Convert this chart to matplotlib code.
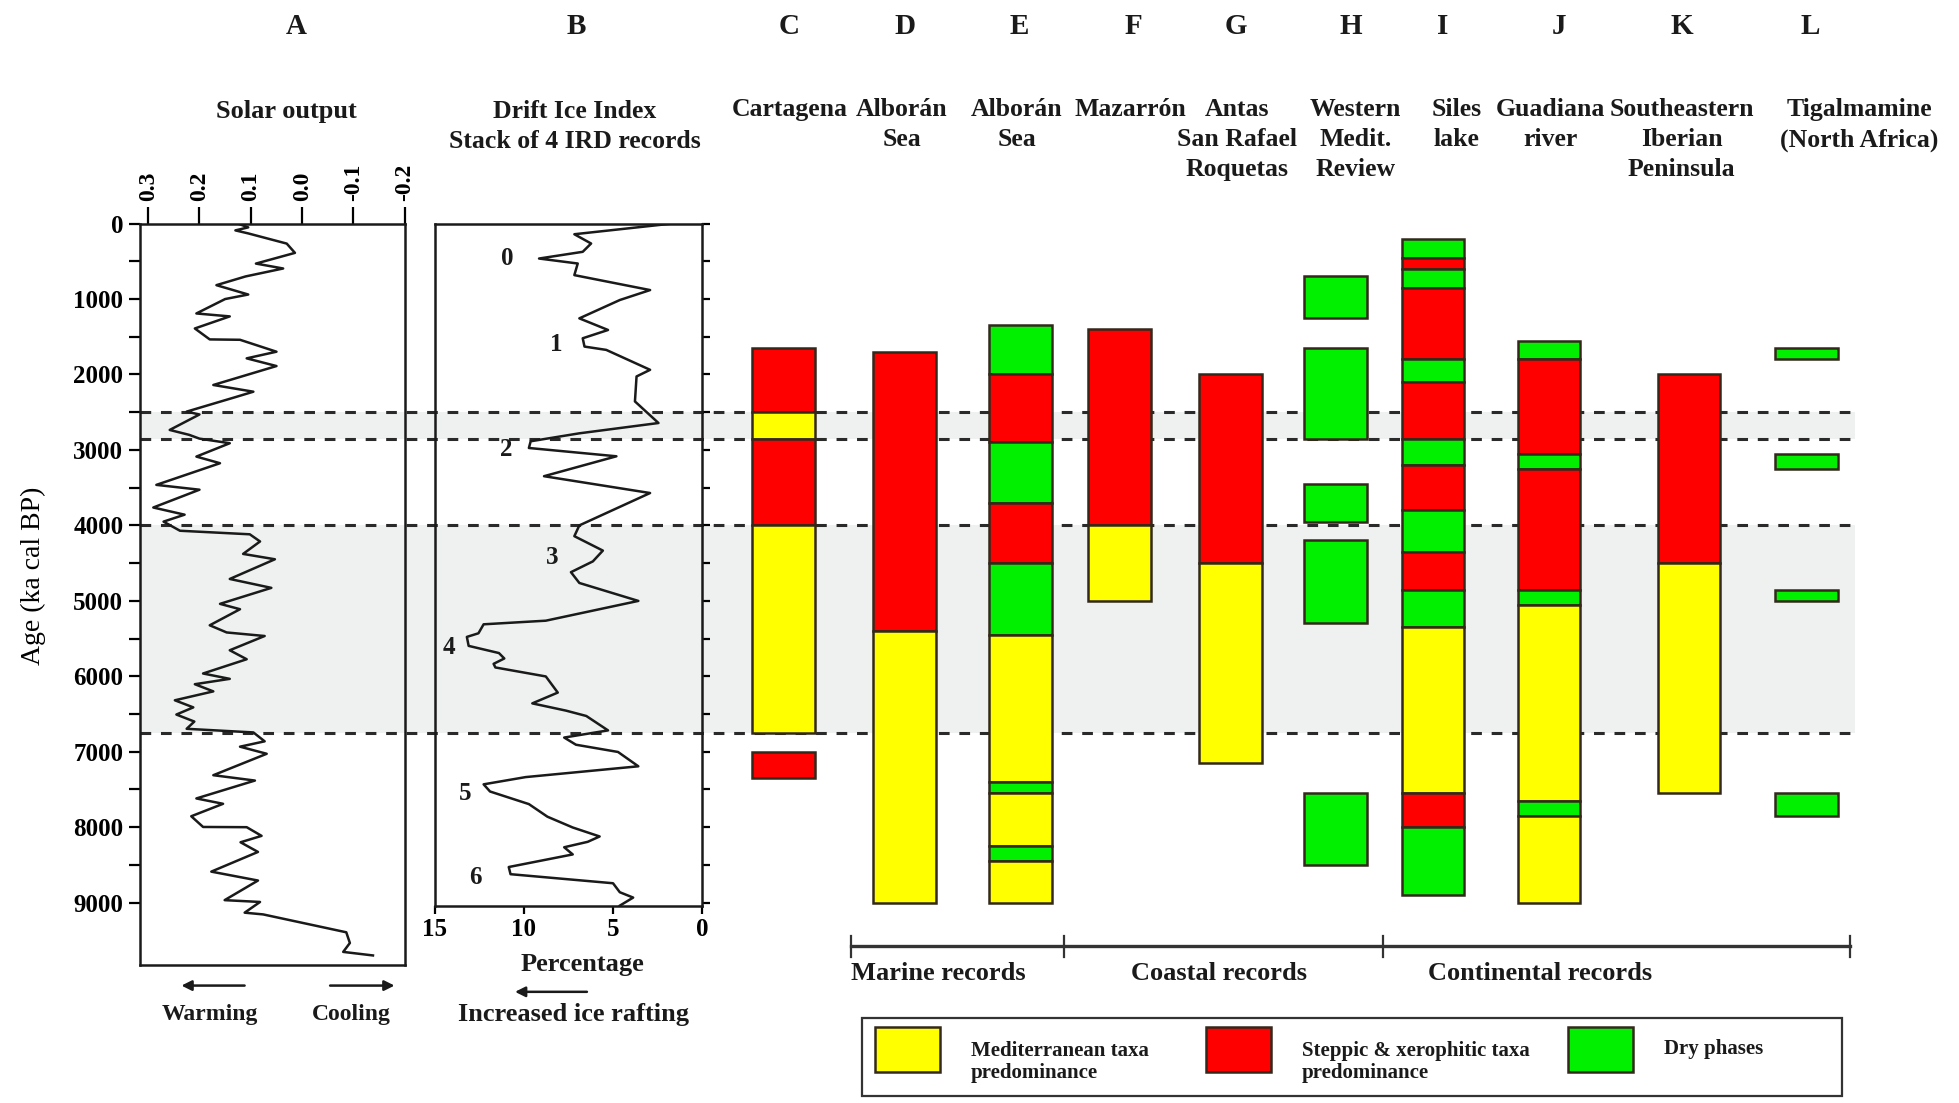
import matplotlib
matplotlib.use("Agg")
import matplotlib.pyplot as plt
from matplotlib.patches import Rectangle

plt.rcParams['font.family'] = ['Liberation Serif', 'DejaVu Serif']
plt.rcParams['font.weight'] = 'bold'

# ---------------- data ----------------
# A: solar output (age cal BP, anomaly)
solar_age = [0, 50, 90, 130, 265, 388, 530, 595, 700, 816, 940, 1000, 1191, 1230, 1390,
             1535, 1540, 1698, 1786, 1888, 2139, 2228, 2300, 2492, 2530, 2735, 2800, 2850,
             2911, 3088, 3176, 3463, 3527, 3763, 3858, 3950, 4071, 4118, 4213, 4378, 4449,
             4710, 4828, 5040, 5111, 5324, 5419, 5466, 5655, 5774, 5963, 6034, 6105, 6200,
             6318, 6412, 6507, 6600, 6696, 6744, 6862, 6933, 7027, 7311, 7382, 7619, 7690,
             7855, 7997, 8000, 8115, 8200, 8328, 8589, 8707, 8967, 8991, 9133, 9156, 9393,
             9535, 9653, 9700]
solar_val = [0.125, 0.105, 0.13, 0.105, 0.03, 0.014, 0.09, 0.037, 0.11, 0.167, 0.105, 0.15,
             0.206, 0.141, 0.209, 0.18, 0.121, 0.05, 0.108, 0.05, 0.173, 0.095, 0.13, 0.225,
             0.20, 0.258, 0.22, 0.20, 0.141, 0.206, 0.16, 0.284, 0.2, 0.29, 0.229, 0.27,
             0.238, 0.102, 0.082, 0.115, 0.053, 0.141, 0.06, 0.16, 0.121, 0.18, 0.147, 0.073,
             0.141, 0.108, 0.193, 0.141, 0.209, 0.173, 0.248, 0.212, 0.245, 0.21, 0.225,
             0.095, 0.073, 0.121, 0.069, 0.173, 0.092, 0.206, 0.154, 0.216, 0.193, 0.108,
             0.079, 0.12, 0.086, 0.177, 0.086, 0.151, 0.082, 0.112, 0.076, -0.086, -0.093,
             -0.08, -0.138]

# B: drift ice index (age cal BP, percentage)
ice_age = [0, 141, 264, 374, 463, 529, 683, 881, 1013, 1256, 1410, 1520, 1630, 1674, 1938,
           2026, 2357, 2643, 2780, 2885, 2974, 3084, 3348, 3571, 4000, 4143, 4334, 4477,
           4620, 4763, 5001, 5263, 5311, 5430, 5478, 5597, 5692, 5764, 5835, 5883, 6002,
           6216, 6359, 6455, 6526, 6717, 6812, 6907, 7003, 7193, 7336, 7432, 7527, 7694,
           7861, 8004, 8123, 8194, 8266, 8361, 8528, 8623, 8743, 8862, 8933, 9040]
ice_pct = [1.7, 7.17, 6.23, 6.7, 9.15, 6.98, 7.17, 2.92, 4.62, 6.89, 5.28, 6.7, 6.6, 5.38,
           2.92, 3.68, 3.77, 2.45, 6.9, 9.62, 9.72, 4.81, 8.87, 2.92, 6.89, 7.17, 5.57, 6.13,
           7.36, 6.89, 3.58, 8.77, 12.26, 12.55, 13.2, 13.1, 11.4, 11.1, 11.7, 11.6, 8.77,
           8.1, 9.53, 7.64, 6.5, 5.28, 7.74, 7.08, 4.72, 3.58, 9.9, 12.26, 11.9, 9.72, 8.68,
           7.26, 5.75, 6.42, 7.74, 7.26, 10.85, 10.75, 5.0, 4.62, 3.87, 4.62]
ice_event_labels = ['0', '1', '2', '3', '4', '5', '6']
ice_event_age = [463, 1608, 2996, 4429, 5620, 7551, 8671]
ice_event_pct = [10.95, 8.2, 11.0, 8.4, 14.2, 13.3, 12.7]

event_lines = [2500, 2850, 4000, 6750]
band_start = [2500, 4000]
band_end = [2850, 6750]

# C-L: vegetation records  (M = Mediterranean, S = steppic, D = dry)
C_top = [1650, 2500, 2850, 4000, 7000]
C_bot = [2500, 2850, 4000, 6750, 7350]
C_kind = ['S', 'M', 'S', 'M', 'S']
D_top = [1700, 5400]
D_bot = [5400, 9000]
D_kind = ['S', 'M']
E_top = [1350, 2000, 2900, 3700, 4500, 5450, 7400, 7550, 8250, 8450]
E_bot = [2000, 2900, 3700, 4500, 5450, 7400, 7550, 8250, 8450, 9000]
E_kind = ['D', 'S', 'D', 'S', 'D', 'M', 'D', 'M', 'D', 'M']
F_top = [1400, 4000]
F_bot = [4000, 5000]
F_kind = ['S', 'M']
G_top = [2000, 4500]
G_bot = [4500, 7150]
G_kind = ['S', 'M']
H_top = [700, 1650, 3450, 4200, 7550]
H_bot = [1250, 2850, 3950, 5300, 8500]
H_kind = ['D', 'D', 'D', 'D', 'D']
I_top = [200, 450, 600, 850, 1800, 2100, 2850, 3200, 3800, 4350, 4850, 5350, 7550, 8000]
I_bot = [450, 600, 850, 1800, 2100, 2850, 3200, 3800, 4350, 4850, 5350, 7550, 8000, 8900]
I_kind = ['D', 'S', 'D', 'S', 'D', 'S', 'D', 'S', 'D', 'S', 'D', 'M', 'S', 'D']
J_top = [1550, 1800, 3050, 3250, 4850, 5050, 7650, 7850]
J_bot = [1800, 3050, 3250, 4850, 5050, 7650, 7850, 9000]
J_kind = ['D', 'S', 'D', 'S', 'D', 'M', 'D', 'M']
K_top = [2000, 4500]
K_bot = [4500, 7550]
K_kind = ['S', 'M']
L_top = [1650, 3050, 4850, 7550]
L_bot = [1800, 3250, 5000, 7850]
L_kind = ['D', 'D', 'D', 'D']

column_letters = ['C', 'D', 'E', 'F', 'G', 'H', 'I', 'J', 'K', 'L']
column_names = ['Cartagena', 'Alborán\nSea', 'Alborán\nSea', 'Mazarrón',
                'Antas\nSan Rafael\nRoquetas', 'Western\nMedit.\nReview', 'Siles\nlake',
                'Guadiana\nriver', 'Southeastern\nIberian\nPeninsula',
                'Tigalmamine\n(North Africa)']
records = [(C_top, C_bot, C_kind), (D_top, D_bot, D_kind), (E_top, E_bot, E_kind),
           (F_top, F_bot, F_kind), (G_top, G_bot, G_kind), (H_top, H_bot, H_kind),
           (I_top, I_bot, I_kind), (J_top, J_bot, J_kind), (K_top, K_bot, K_kind),
           (L_top, L_bot, L_kind)]

# ---------------- layout (reference pixels, 1568x883 frame) ----------------
W, H = 1568.0, 883.0
Y0, PX_PER_KYR = 179.0, 60.4          # age 0 row, pixels per 1000 yr
col_x = [627, 724, 817, 896, 985, 1069, 1147, 1240, 1352, 1446]
letter_x = [632, 724, 816, 907, 989, 1081, 1155, 1248, 1346, 1449]
name_x = [632, 722, 814, 905, 990, 1085, 1166, 1241, 1346, 1488]
bar_w = 50
colors = {'M': '#ffff00', 'S': '#ff0000', 'D': '#00f000'}
ink = '#1a1a1a'
edge = '#33281a'


def yrow(age):
    return Y0 + age / 1000.0 * PX_PER_KYR


def rect(x0, x1, age_bot, age_top=0):
    yt, yb = yrow(age_top), yrow(age_bot)
    return [x0 / W, 1 - yb / H, (x1 - x0) / W, (yb - yt) / H]


fig = plt.figure(figsize=(19.59, 11.03), dpi=100)

# background age axis: shading, event lines, vegetation bars
bg_bottom = 9820
bg = fig.add_axes(rect(0, W, bg_bottom), zorder=1)
bg.set_xlim(0, W)
bg.set_ylim(bg_bottom, 0)
bg.axis('off')
for s, e in zip(band_start, band_end):
    bg.fill_between([112, 1485], s, e, color='#eff1f1', lw=0, zorder=0)
bg.hlines(event_lines, 112, 1485, colors='#2a2a2a', lw=2.2,
          linestyles=(0, (3.5, 3.2)), zorder=1)
for x, (tops, bots, kinds) in zip(col_x, records):
    heights = [b - t for t, b in zip(tops, bots)]
    bg.bar([x] * len(tops), heights, bottom=tops, width=bar_w,
           color=[colors[k] for k in kinds], edgecolor=edge, linewidth=1.8, zorder=3)

# ---- panel A ----
axA = fig.add_axes(rect(112, 324, 9820), zorder=2)
axA.patch.set_alpha(0)
axA.plot(solar_val, solar_age, color=ink, lw=1.8)
axA.set_xlim(0.316, -0.2)
axA.set_ylim(9820, 0)
axA.xaxis.set_ticks_position('top')
axA.set_xticks([0.3, 0.2, 0.1, 0.0, -0.1, -0.2])
axA.set_xticklabels(['0.3', '0.2', '0.1', '0.0', '-0.1', '-0.2'], rotation=90)
axA.set_yticks(range(0, 9001, 1000))
axA.set_yticks(range(500, 9001, 1000), minor=True)
axA.tick_params(axis='x', direction='out', length=12, width=1.6, labelsize=17, pad=4)
axA.tick_params(axis='y', which='both', direction='out', length=8, width=1.6,
                labelsize=18, pad=4)
for sp in axA.spines.values():
    sp.set_linewidth(1.8)
    sp.set_color(ink)
axA.set_ylabel('Age (ka cal BP)', fontsize=20)
axA.yaxis.set_label_coords(-0.355, 0.525)

# ---- panel B ----
axB = fig.add_axes(rect(348, 562, 9050), zorder=2)
axB.patch.set_alpha(0)
axB.plot(ice_pct, ice_age, color=ink, lw=1.8)
axB.set_xlim(15, 0)
axB.set_ylim(9050, 0)
axB.set_xticks([15, 10, 5, 0])
axB.yaxis.set_ticks_position('right')
axB.set_yticks(range(0, 9001, 500))
axB.set_yticklabels([])
axB.tick_params(axis='x', direction='out', length=6, width=1.6, labelsize=18, pad=2)
axB.tick_params(axis='y', direction='out', length=6, width=1.6)
for sp in axB.spines.values():
    sp.set_linewidth(1.8)
    sp.set_color(ink)
for lab, a, p in zip(ice_event_labels, ice_event_age, ice_event_pct):
    axB.text(p, a, lab, fontsize=18, ha='center', va='center', color=ink)

# ---- overlay for titles, notes, legend ----
ov = fig.add_axes([0, 0, 1, 1], zorder=5)
ov.set_xlim(0, W)
ov.set_ylim(H, 0)
ov.axis('off')
ov.patch.set_alpha(0)

ov.text(237, 21, 'A', fontsize=21, ha='center', va='center', color=ink)
ov.text(461, 21, 'B', fontsize=21, ha='center', va='center', color=ink)
for x, l in zip(letter_x, column_letters):
    ov.text(x, 21, l, fontsize=21, ha='center', va='center', color=ink)
for x, n in zip(name_x, column_names):
    for i, line in enumerate(n.split('\n')):
        ov.text(x, 88 + 24 * i, line, fontsize=18.5, ha='center', va='center', color=ink)
ov.text(229, 89, 'Solar output', fontsize=19, ha='center', va='center', color=ink)
ov.text(460, 89, 'Drift Ice Index', fontsize=18.5, ha='center', va='center', color=ink)
ov.text(460, 113, 'Stack of 4 IRD records', fontsize=18.5, ha='center', va='center',
        color=ink)

# arrows and notes under A and B
arrow = dict(arrowstyle='-|>', color=ink, lw=1.8, mutation_scale=15)
ov.annotate('', xy=(143, 789), xytext=(198, 789), arrowprops=arrow)
ov.annotate('', xy=(318, 789), xytext=(262, 789), arrowprops=arrow)
ov.text(168, 812, 'Warming', fontsize=17, ha='center', va='center', color=ink)
ov.text(281, 812, 'Cooling', fontsize=17, ha='center', va='center', color=ink)
ov.text(466, 772, 'Percentage', fontsize=19, ha='center', va='center', color=ink)
ov.annotate('', xy=(410, 794), xytext=(472, 794), arrowprops=arrow)
ov.text(459, 812, 'Increased ice rafting', fontsize=19, ha='center', va='center', color=ink)

# record type bracket
ov.plot([681, 1481], [757, 757], color='#333333', lw=2.4)
for x in [681, 852, 1107, 1481]:
    ov.plot([x, x], [749, 766], color='#333333', lw=1.6)
ov.text(681, 779, 'Marine records', fontsize=19, ha='left', va='center', color=ink)
ov.text(976, 779, 'Coastal records', fontsize=19, ha='center', va='center', color=ink)
ov.text(1233, 779, 'Continental records', fontsize=19, ha='center', va='center', color=ink)

# legend box
ov.add_patch(Rectangle((690, 815), 784, 62, fill=False, edgecolor='#333333', lw=1.6))
legend_x = [700, 965, 1255]
legend_kind = ['M', 'S', 'D']
legend_text = ['Mediterranean taxa\npredominance', 'Steppic & xerophitic taxa\npredominance',
               'Dry phases']
for x, k, t in zip(legend_x, legend_kind, legend_text):
    ov.add_patch(Rectangle((x, 822), 52, 36, facecolor=colors[k], edgecolor=edge, lw=1.8))
    ov.text(x + 77, 850 if '\n' in t else 840, t, fontsize=15, ha='left', va='center',
            color=ink, linespacing=1.15)

fig.savefig('out.png', dpi=100)
